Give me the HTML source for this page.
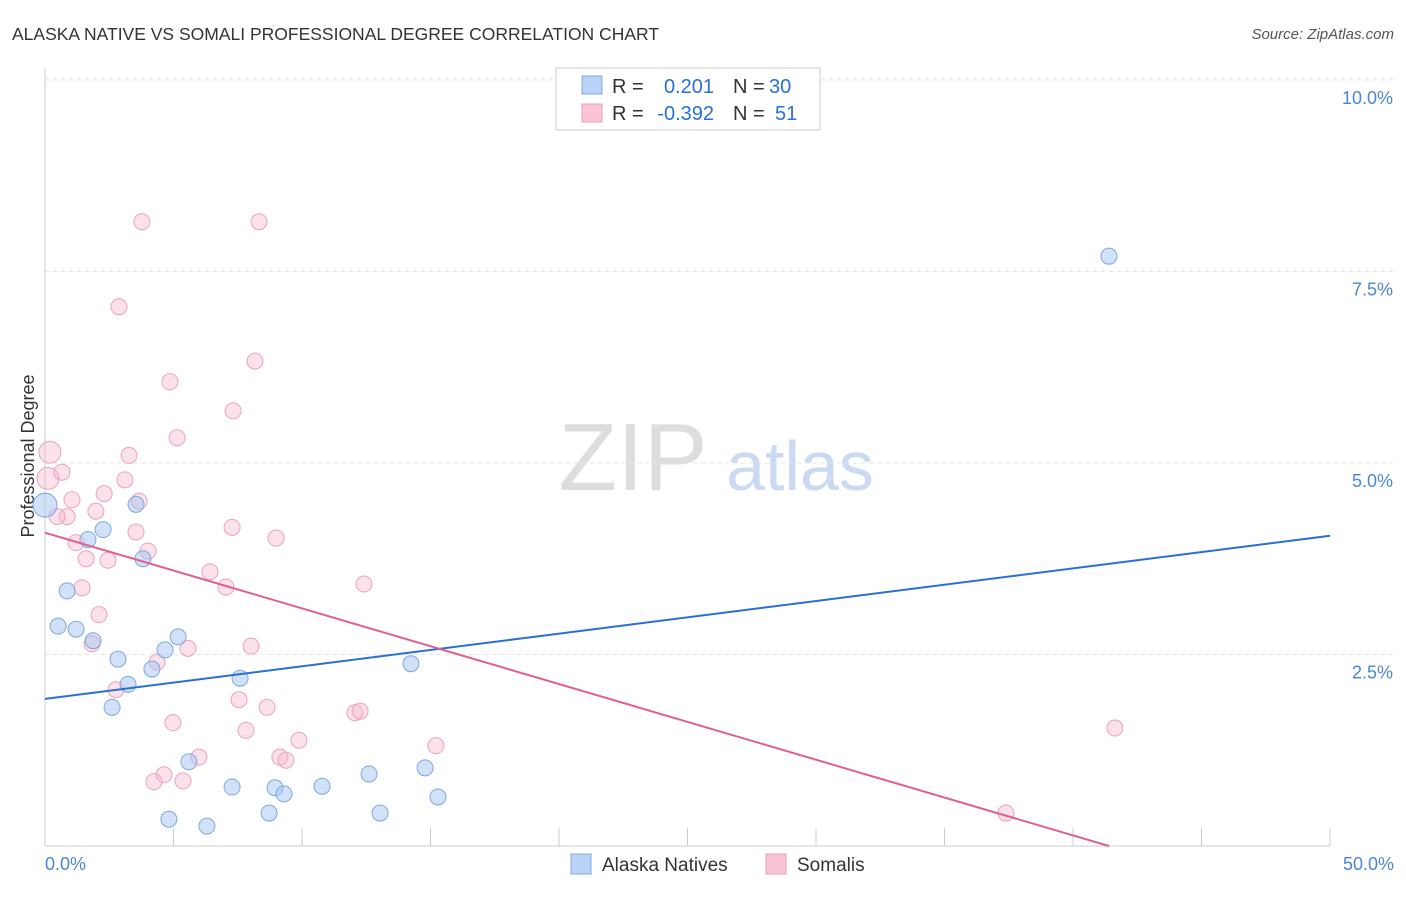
<!DOCTYPE html>
<html><head><meta charset="utf-8"><style>
body{margin:0;background:#fff;font-family:"Liberation Sans",sans-serif;}
svg text{font-family:"Liberation Sans",sans-serif;}
</style></head><body>
<svg id="c" width="1406" height="892">
<text x="12" y="40" font-size="17.5" fill="#333">ALASKA NATIVE VS SOMALI PROFESSIONAL DEGREE CORRELATION CHART</text>
<text x="1394" y="39" font-size="15" fill="#555" text-anchor="end" font-style="italic">Source: ZipAtlas.com</text>
<text x="34" y="456" font-size="18" fill="#333" text-anchor="middle" transform="rotate(-90 34 456)">Professional Degree</text>
<g><text x="633" y="490" font-size="96" font-family="Liberation Serif" fill="#ddd" text-anchor="middle">ZIP</text><text x="800" y="490" font-size="70" fill="#c9daf2" text-anchor="middle">atlas</text></g>
<g id="grid"></g><g id="pts"></g><g id="lines"></g>
<g>
<rect x="556" y="68" width="264" height="62" fill="#fff" stroke="#ccc"/>
<rect x="582" y="76" width="20" height="18" fill="#b8d3f5" stroke="#7fa8e0"/>
<rect x="582" y="104" width="20" height="18" fill="#f9c5d5" stroke="#e9a0b8"/>
<text x="612" y="93" font-size="20" fill="#333">R =</text>
<text x="714" y="93" font-size="20" fill="#2a6fd6" text-anchor="end">0.201</text>
<text x="733" y="93" font-size="20" fill="#333">N =</text>
<text x="769" y="93" font-size="20" fill="#2a6fd6">30</text>
<text x="612" y="120" font-size="20" fill="#333">R =</text>
<text x="714" y="120" font-size="20" fill="#2a6fd6" text-anchor="end">-0.392</text>
<text x="733" y="120" font-size="20" fill="#333">N =</text>
<text x="775" y="120" font-size="20" fill="#2a6fd6">51</text>
</g>
<g>
<rect x="571" y="854" width="20" height="20" fill="#b8d3f5" stroke="#7fa8e0"/>
<text x="602" y="871" font-size="19" fill="#333">Alaska Natives</text>
<rect x="766" y="854" width="20" height="20" fill="#f9c5d5" stroke="#e9a0b8"/>
<text x="797" y="871" font-size="19" fill="#333">Somalis</text>
</g>
</svg>
<script>
const yTicks=[2.5,5,7.5,10];
const yTickLabels=["2.5%","5.0%","7.5%","10.0%"];
const xTicks=[0,5,10,15,20,25,30,35,40,45,50];
const blueX=[0,41.4,2.26,1.67,3.54,3.81,0.86,0.51,1.21,1.87,5.18,4.67,2.84,4.16,3.23,7.59,2.61,14.24,5.60,7.28,8.95,9.30,10.78,12.61,14.79,15.29,4.82,6.30,8.72,13.04];
const blueY=[4.45,7.70,4.13,4.0,4.46,3.75,3.33,2.87,2.83,2.68,2.73,2.56,2.44,2.31,2.11,2.19,1.81,2.38,1.10,0.77,0.76,0.68,0.78,0.94,1.02,0.64,0.35,0.26,0.43,0.43];
const pinkX=[0.19,0.12,0.66,3.77,8.33,2.88,8.17,4.86,7.32,5.14,3.27,3.11,2.30,1.05,3.66,1.98,0.86,0.47,3.54,7.28,8.99,1.21,4.01,1.60,2.45,6.42,7.04,12.41,1.44,2.10,1.83,5.56,8.02,4.36,2.76,7.55,8.64,4.98,7.82,9.88,12.06,12.26,5.99,9.14,9.38,15.21,4.63,4.24,5.37,41.63,37.39];
const pinkY=[5.14,4.80,4.88,8.15,8.15,7.04,6.33,6.06,5.68,5.33,5.10,4.78,4.60,4.52,4.50,4.37,4.30,4.30,4.10,4.16,4.02,3.96,3.85,3.75,3.73,3.58,3.38,3.42,3.37,3.02,2.64,2.58,2.61,2.40,2.04,1.91,1.81,1.61,1.51,1.38,1.74,1.76,1.16,1.16,1.12,1.31,0.93,0.84,0.85,1.54,0.43];
const blueTrend=[[0,1.92],[50,4.05]];
const pinkTrend=[[0,4.09],[41.4,0]];
const X=v=>45+v*25.7, Y=v=>846-v*76.6;
const NS="http://www.w3.org/2000/svg";
function mk(p,t,a){const e=document.createElementNS(NS,t);for(const k in a)e.setAttribute(k,a[k]);p.appendChild(e);return e;}
const g=document.getElementById('grid');
let ax=mk(g,'line',{x1:45,y1:68,x2:45,y2:846,stroke:'#ccc'});


let bx=mk(g,'line',{x1:45,y1:846,x2:1330,y2:846,stroke:'#ccc'});


mk(g,'line',{x1:45,y1:78,x2:1395,y2:78,stroke:'#e8e8e8','stroke-dasharray':'4,4'});
yTicks.forEach((t,i)=>{
 const l=mk(g,'line',{x1:45,y1:Y(t),x2:1395,y2:Y(t),stroke:'#e4e4e4','stroke-dasharray':'4,4'});
 
 
 const tx=mk(g,'text',{x:1393,y:Y(t)+24,'font-size':18,fill:'#4a86d8','text-anchor':'end'});
 tx.textContent=yTickLabels[i];
 
 
});
xTicks.forEach(t=>{
 const l=mk(g,'line',{x1:X(t),y1:828,x2:X(t),y2:846,stroke:'#ccc'});
 
 
});
[[0,"0.0%","start"],[50,"50.0%","end"]].forEach(a=>{
 const tx=mk(g,'text',{x:a[0]===0?X(0):X(50)+64,y:870,'font-size':18,fill:'#4a86d8','text-anchor':a[2]});
 tx.textContent=a[1];
 
 
});
const p=document.getElementById('pts');
pinkX.forEach((x,i)=>{
 const c=mk(p,'circle',{cx:X(x),cy:Y(pinkY[i]),r:i<2?11:8,fill:'rgba(246,180,202,0.4)',stroke:'#eaa3bb','stroke-width':1});
 
 
});
blueX.forEach((x,i)=>{
 const c=mk(p,'circle',{cx:X(x),cy:Y(blueY[i]),r:i==0?12:8,fill:'rgba(164,198,242,0.5)',stroke:'#7ea7df','stroke-width':1});
 
 
});
const L=document.getElementById('lines');
const b=mk(L,'line',{x1:X(blueTrend[0][0]),y1:Y(blueTrend[0][1]),x2:X(blueTrend[1][0]),y2:Y(blueTrend[1][1]),stroke:'#2a6fd6','stroke-width':2});


const q=mk(L,'line',{x1:X(pinkTrend[0][0]),y1:Y(pinkTrend[0][1]),x2:X(pinkTrend[1][0]),y2:Y(pinkTrend[1][1]),stroke:'#e0608f','stroke-width':2});


</script>
</body></html>
